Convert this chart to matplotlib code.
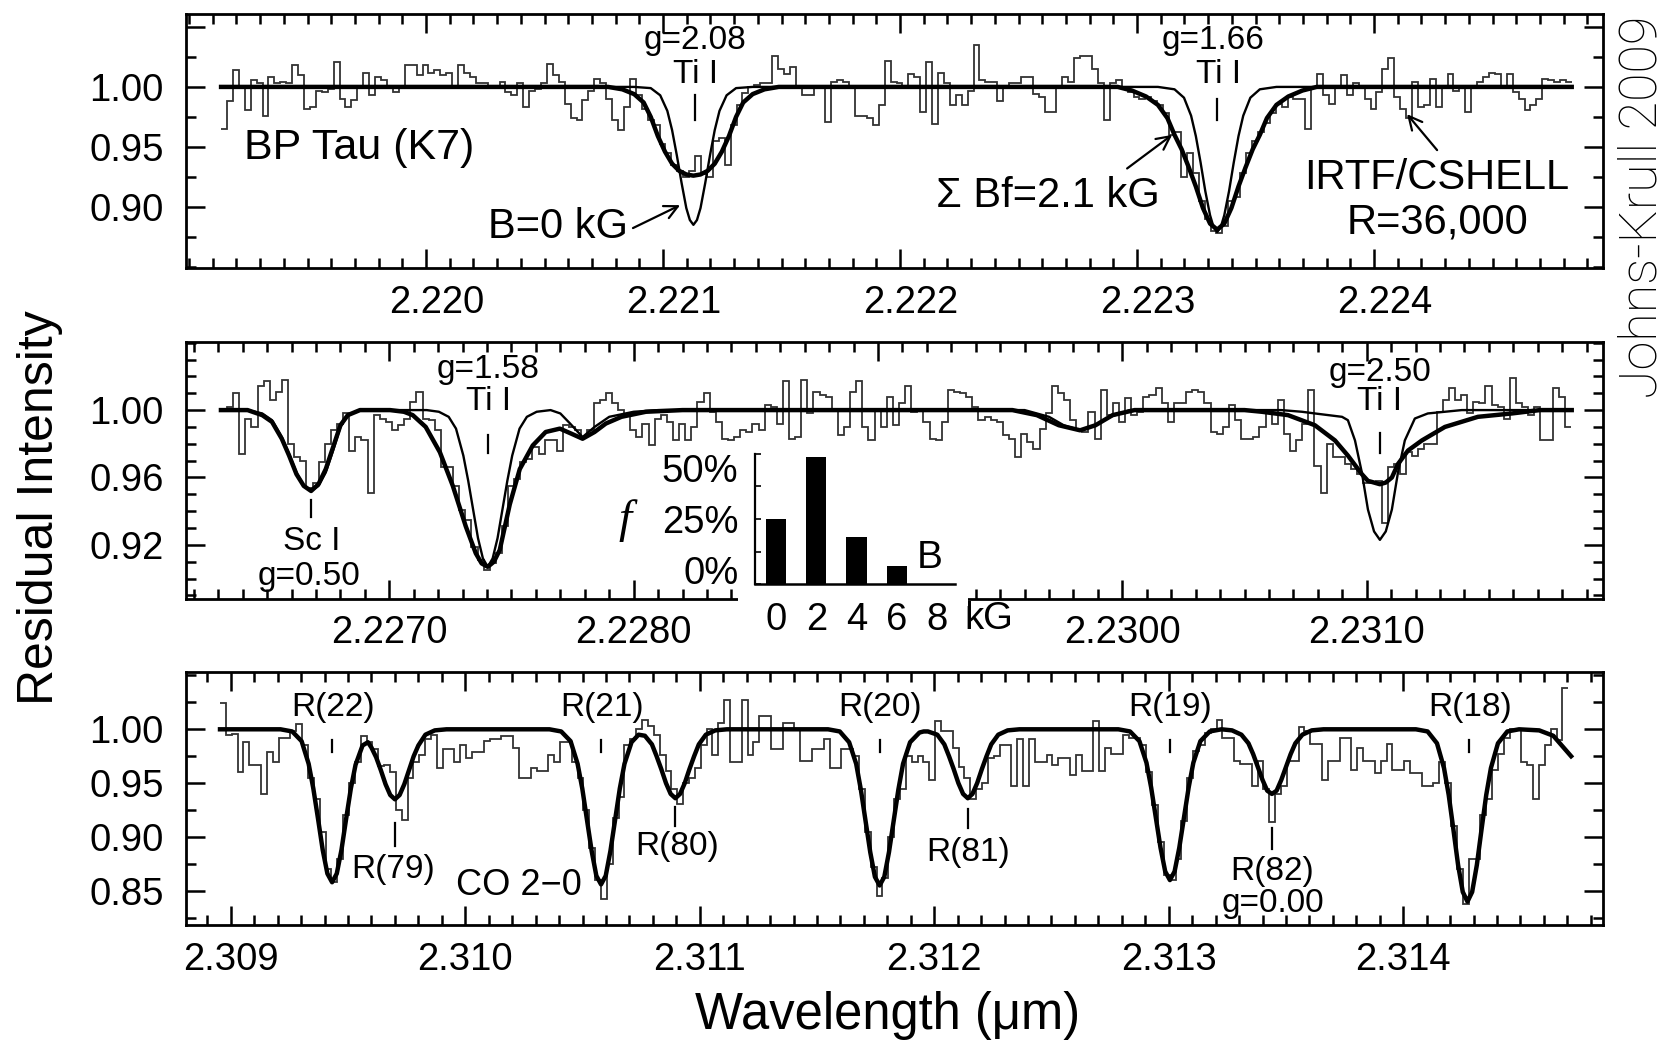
import numpy as np
import matplotlib
matplotlib.use('Agg')
import matplotlib.pyplot as plt
from matplotlib.patches import Rectangle
from matplotlib.ticker import MultipleLocator
from matplotlib.transforms import ScaledTranslation

plt.rcParams['font.family'] = ['Liberation Sans', 'DejaVu Sans']
plt.rcParams.update({
    'xtick.direction': 'in', 'ytick.direction': 'in',
    'xtick.top': True, 'ytick.right': True,
    'xtick.major.size': 14, 'ytick.major.size': 14,
    'xtick.minor.size': 7.5, 'ytick.minor.size': 7.5,
    'xtick.major.width': 1.8, 'ytick.major.width': 1.8,
    'xtick.minor.width': 1.8, 'ytick.minor.width': 1.8,
    'xtick.minor.visible': True, 'ytick.minor.visible': True,
})

W, H = 1667, 1046
bin_width = 0.000025

# ---------------- Ti I 2.221 / 2.223 um window ----------------
ti_a_start = 2.219135
ti_a_flux = [
    0.965, 0.988, 1.014, 1.000, 0.981, 1.006, 1.003, 0.976, 1.008, 1.003,
    1.004, 1.003, 1.018, 1.010, 0.982, 0.983, 0.997, 0.996, 0.998, 1.021,
    0.990, 0.983, 0.989, 1.000, 1.012, 0.993, 1.008, 1.006, 1.000, 0.996,
    1.000, 1.018, 1.018, 1.010, 1.018, 1.012, 1.014, 1.010, 1.012, 1.000,
    1.018, 1.012, 1.008, 1.003, 1.003, 1.001, 1.001, 1.004, 0.996, 0.993,
    1.003, 0.983, 0.997, 0.998, 1.003, 1.019, 1.010, 1.004, 0.986, 0.974,
    0.972, 0.989, 0.997, 1.007, 1.003, 0.990, 0.972, 0.964, 0.983, 1.007,
    0.993, 0.982, 0.972, 0.968, 0.952, 0.945, 0.935, 0.930, 0.925, 0.930,
    0.942, 0.927, 0.925, 0.955, 0.957, 0.935, 0.968, 0.985, 0.995, 1.000,
    1.002, 1.003, 1.003, 1.026, 1.015, 1.011, 1.017, 1.000, 0.993, 0.993,
    1.000, 1.000, 0.971, 1.004, 1.006, 1.004, 1.001, 0.976, 0.976, 0.974,
    0.968, 0.985, 1.022, 1.004, 1.003, 1.000, 1.011, 1.008, 0.979, 1.021,
    0.969, 1.012, 1.003, 0.985, 0.993, 0.985, 0.997, 1.035, 1.006, 1.004,
    1.004, 0.988, 1.001, 1.003, 1.003, 1.008, 1.008, 0.994, 0.992, 0.979,
    0.979, 1.000, 1.008, 1.004, 1.024, 1.026, 1.026, 1.015, 1.003, 0.972,
    1.003, 1.006, 0.999, 0.996, 0.992, 0.990, 0.992, 0.988, 0.985, 0.978,
    0.960, 0.962, 0.925, 0.945, 0.928, 0.905, 0.890, 0.880, 0.878, 0.884,
    0.905, 0.908, 0.928, 0.945, 0.955, 0.962, 0.970, 0.978, 0.986, 0.983,
    0.992, 0.990, 0.990, 0.965, 1.000, 1.011, 0.993, 0.986, 1.000, 1.010,
    0.993, 1.003, 0.999, 0.990, 0.982, 0.996, 1.015, 1.024, 0.992, 0.982,
    0.974, 1.004, 0.983, 0.985, 1.007, 0.983, 1.001, 1.011, 0.997, 1.001,
    0.979, 1.000, 1.004, 1.008, 1.012, 1.011, 1.000, 1.011, 0.996, 0.990,
    0.981, 0.985, 0.990, 1.007, 1.006, 1.004, 1.006, 1.004,
]
ti_a_b0_wl = [
    2.219135, 2.220878, 2.220948, 2.220988, 2.221018, 2.221038, 2.221058,
    2.221078, 2.221098, 2.221113, 2.221128, 2.221143, 2.221158, 2.221178,
    2.221198, 2.221218, 2.221238, 2.221268, 2.221308, 2.221378,
    2.223088, 2.223158, 2.223198, 2.223228, 2.223248, 2.223268, 2.223288,
    2.223308, 2.223323, 2.223338, 2.223353, 2.223368, 2.223388, 2.223408,
    2.223428, 2.223448, 2.223478, 2.223518, 2.223588, 2.224834,
]
ti_a_b0_flux = [
    1.000, 1.000, 0.999, 0.993, 0.980, 0.964, 0.943,
    0.920, 0.899, 0.889, 0.885, 0.889, 0.899, 0.920,
    0.943, 0.964, 0.980, 0.993, 0.999, 1.000,
    1.000, 0.998, 0.991, 0.976, 0.959, 0.937, 0.913,
    0.893, 0.883, 0.879, 0.883, 0.893, 0.913, 0.937,
    0.959, 0.976, 0.991, 0.998, 1.000, 1.000,
]
ti_a_fit_wl = [
    2.219135, 2.220768, 2.220828, 2.220878, 2.220918, 2.220948, 2.220978,
    2.221008, 2.221038, 2.221068, 2.221098, 2.221128, 2.221158, 2.221188,
    2.221218, 2.221248, 2.221278, 2.221308, 2.221338, 2.221378, 2.221428,
    2.221488,
    2.222918, 2.222978, 2.223038, 2.223088, 2.223128, 2.223158, 2.223188,
    2.223218, 2.223248, 2.223278, 2.223308, 2.223338, 2.223368, 2.223398,
    2.223428, 2.223458, 2.223488, 2.223518, 2.223548, 2.223588, 2.223638,
    2.223698, 2.223758, 2.224834,
]
ti_a_fit_flux = [
    1.000, 1.000, 0.998, 0.994, 0.987, 0.975, 0.959,
    0.946, 0.936, 0.930, 0.927, 0.926, 0.927, 0.930,
    0.936, 0.946, 0.959, 0.975, 0.987, 0.994, 0.998,
    1.000,
    1.000, 0.997, 0.992, 0.985, 0.974, 0.960, 0.948,
    0.933, 0.917, 0.899, 0.886, 0.881, 0.886, 0.899,
    0.917, 0.933, 0.948, 0.960, 0.974, 0.985, 0.992,
    0.997, 1.000, 1.000,
]

# ---------------- Sc I / Ti I 2.227 - 2.231 um window ----------------
ti_b_start = 2.226311
ti_b_flux = [
    1.000, 1.002, 1.010, 0.974, 0.995, 0.990, 1.014, 1.017, 1.006, 1.011,
    1.018, 0.980, 0.972, 0.970, 0.954, 0.957, 0.969, 0.980, 0.988, 0.992,
    0.998, 0.976, 0.984, 0.982, 0.951, 0.997, 0.995, 0.993, 0.988, 0.991,
    0.995, 1.005, 1.011, 0.995, 0.994, 0.988, 0.966, 0.966, 0.955, 0.941,
    0.935, 0.919, 0.911, 0.905, 0.909, 0.915, 0.931, 0.955, 0.959, 0.969,
    0.971, 0.978, 0.974, 0.982, 0.982, 0.976, 0.991, 0.990, 0.988, 0.984,
    0.988, 1.004, 1.006, 1.010, 1.004, 1.000, 0.997, 0.988, 0.984, 0.992,
    0.979, 0.995, 0.997, 0.993, 0.982, 0.992, 0.982, 0.990, 1.005, 1.010,
    0.999, 0.993, 0.983, 0.982, 0.984, 0.988, 0.987, 0.992, 0.988, 1.003,
    1.002, 0.992, 1.017, 0.983, 0.984, 1.018, 0.998, 1.011, 1.009, 1.008,
    1.000, 0.985, 0.990, 1.011, 1.017, 0.990, 0.982, 1.000, 0.990, 1.008,
    0.991, 1.004, 1.014, 0.999, 1.000, 0.993, 0.983, 0.982, 0.993, 1.012,
    1.011, 1.010, 1.008, 1.002, 0.994, 0.996, 0.994, 0.993, 0.985, 0.983,
    0.972, 0.986, 0.981, 0.977, 0.989, 0.998, 1.014, 1.010, 1.006, 0.994,
    0.988, 0.987, 0.999, 0.983, 1.012, 0.997, 1.004, 0.993, 1.007, 0.997,
    0.999, 1.008, 1.009, 1.013, 1.004, 0.993, 1.004, 1.004, 1.011, 1.012,
    1.011, 1.004, 0.987, 0.986, 0.990, 1.003, 0.994, 0.983, 0.983, 0.984,
    0.990, 0.998, 0.992, 1.006, 0.986, 0.976, 0.982, 0.992, 1.012, 0.967,
    0.951, 0.980, 0.972, 0.972, 0.968, 0.965, 0.962, 0.957, 0.957, 0.958,
    0.933, 0.966, 0.968, 0.962, 0.975, 0.973, 0.977, 0.980, 0.980, 0.999,
    1.006, 1.013, 1.006, 1.009, 0.998, 1.005, 1.004, 1.014, 1.003, 1.002,
    0.995, 1.019, 1.004, 1.002, 0.997, 1.002, 0.982, 0.982, 1.013, 1.008,
    0.990,
]
ti_b_b0_wl = [
    2.226311, 2.226420, 2.226480, 2.226520, 2.226560, 2.226590, 2.226620,
    2.226650, 2.226680, 2.226710, 2.226740, 2.226770, 2.226800, 2.226830,
    2.226880,
    2.227153, 2.227203, 2.227243, 2.227273, 2.227303, 2.227323, 2.227343,
    2.227363, 2.227383, 2.227403, 2.227423, 2.227443, 2.227463, 2.227483,
    2.227503, 2.227533, 2.227563, 2.227603, 2.227660,
    2.227700, 2.227740, 2.227791, 2.227840, 2.227900, 2.228000, 2.228100,
    2.229600, 2.229700, 2.229760, 2.229827, 2.229890, 2.229950, 2.230030,
    2.230650, 2.230735, 2.230788, 2.230899, 2.230923, 2.230952, 2.230980,
    2.231005, 2.231030, 2.231054, 2.231078, 2.231103, 2.231128, 2.231156,
    2.231197, 2.231250, 2.231389, 2.231839,
]
ti_b_b0_flux = [
    1.000, 1.000, 0.998, 0.994, 0.984, 0.974, 0.963,
    0.955, 0.952, 0.955, 0.963, 0.976, 0.990, 0.997,
    1.000,
    1.000, 0.999, 0.996, 0.989, 0.973, 0.958, 0.941,
    0.924, 0.912, 0.907, 0.912, 0.924, 0.941, 0.958,
    0.973, 0.989, 0.996, 0.999, 1.000,
    0.998, 0.992, 0.984, 0.990, 0.996, 0.999, 1.000,
    1.000, 0.996, 0.991, 0.988, 0.991, 0.996, 1.000,
    1.000, 0.999, 0.998, 0.996, 0.994, 0.982, 0.963,
    0.941, 0.928, 0.923, 0.928, 0.941, 0.963, 0.982,
    0.995, 0.998, 1.000, 1.000,
]
ti_b_fit_wl = [
    2.226311, 2.226420, 2.226480, 2.226520, 2.226560, 2.226590, 2.226620,
    2.226650, 2.226680, 2.226710, 2.226740, 2.226770, 2.226800, 2.226830,
    2.226880,
    2.227003, 2.227060, 2.227096, 2.227149, 2.227207, 2.227260, 2.227313,
    2.227354, 2.227378, 2.227403, 2.227428, 2.227452, 2.227493, 2.227534,
    2.227587, 2.227640, 2.227698, 2.227745, 2.227791, 2.227840, 2.227886,
    2.227950, 2.228050, 2.228200,
    2.229550, 2.229650, 2.229740, 2.229827, 2.229890, 2.229960, 2.230050,
    2.230500, 2.230571, 2.230678, 2.230788, 2.230870, 2.230923, 2.230980,
    2.231005, 2.231030, 2.231054, 2.231078, 2.231103, 2.231128, 2.231169,
    2.231226, 2.231320, 2.231455, 2.231594, 2.231709, 2.231839,
]
ti_b_fit_flux = [
    1.000, 1.000, 0.997, 0.993, 0.983, 0.973, 0.962,
    0.955, 0.952, 0.956, 0.965, 0.978, 0.991, 0.997,
    1.000,
    1.000, 0.999, 0.997, 0.990, 0.975, 0.955, 0.931,
    0.915, 0.909, 0.907, 0.910, 0.917, 0.944, 0.965,
    0.979, 0.987, 0.989, 0.986, 0.983, 0.987, 0.992,
    0.996, 0.999, 1.000,
    1.000, 0.997, 0.991, 0.988, 0.991, 0.997, 1.000,
    1.000, 0.999, 0.997, 0.991, 0.982, 0.973, 0.962,
    0.958, 0.957, 0.956, 0.957, 0.960, 0.968, 0.976,
    0.982, 0.990, 0.996, 0.998, 1.000, 1.000,
]
inset_b = [0, 2, 4, 6, 8]
inset_f = [25, 49, 18, 7, 0]

# ---------------- CO 2-0 window ----------------
co_start = 2.308954
co_flux = [
    1.024, 0.995, 0.996, 0.960, 0.988, 0.967, 0.967, 0.940, 0.979, 0.970,
    0.992, 0.992, 0.998, 1.005, 0.985, 0.955, 0.935, 0.905, 0.870, 0.858,
    0.880, 0.920, 0.950, 0.970, 0.994, 0.988, 0.982, 0.966, 0.967, 0.960,
    0.925, 0.916, 0.955, 0.970, 0.976, 0.991, 0.995, 0.964, 0.982, 0.982,
    0.970, 0.985, 0.973, 0.979, 0.979, 0.989, 0.991, 0.991, 0.994, 0.994,
    0.983, 0.955, 0.955, 0.964, 0.961, 0.961, 0.976, 0.970, 0.988, 0.988,
    0.970, 0.955, 0.925, 0.890, 0.860, 0.842, 0.875, 0.918, 0.937, 0.985,
    0.991, 1.000, 1.009, 1.003, 0.995, 0.976, 0.961, 0.945, 0.931, 0.950,
    0.955, 0.964, 0.985, 1.000, 0.976, 1.006, 1.027, 0.970, 0.970, 1.027,
    0.976, 0.988, 1.012, 1.012, 0.982, 0.982, 1.006, 1.006, 1.000, 0.971,
    0.971, 0.982, 0.982, 0.991, 0.964, 0.964, 0.982, 0.982, 0.975, 0.945,
    0.905, 0.872, 0.845, 0.862, 0.900, 0.935, 0.945, 0.975, 0.970, 0.975,
    0.970, 0.953, 1.008, 0.998, 0.998, 0.983, 0.965, 0.955, 0.935, 0.945,
    0.950, 0.973, 0.975, 0.985, 0.985, 0.947, 0.991, 0.947, 0.991, 0.970,
    0.970, 0.976, 0.967, 0.973, 0.973, 0.958, 0.976, 0.961, 0.961, 1.008,
    0.961, 0.983, 0.977, 0.977, 0.995, 0.992, 0.992, 0.985, 0.960, 0.930,
    0.895, 0.865, 0.860, 0.880, 0.915, 0.955, 0.980, 0.985, 0.997, 1.000,
    1.009, 0.992, 0.992, 0.971, 0.968, 0.968, 0.947, 0.971, 0.945, 0.914,
    0.940, 0.947, 0.971, 0.971, 1.002, 0.998, 0.986, 0.986, 0.953, 0.971,
    0.971, 0.992, 0.992, 0.962, 0.983, 0.971, 0.971, 0.959, 0.971, 0.986,
    0.962, 0.962, 0.971, 0.959, 0.959, 0.947, 0.947, 0.950, 0.970, 0.950,
    0.910, 0.870, 0.838, 0.880, 0.880, 0.920, 0.935, 0.962, 0.977, 0.992,
    1.000, 1.000, 0.970, 0.967, 0.935, 0.967, 0.985, 1.000, 0.990, 1.038,
]
co_fit_wl = [
    2.308954,
    2.309212, 2.309262, 2.309302, 2.309332, 2.309352, 2.309372, 2.309392,
    2.309412, 2.309432, 2.309452, 2.309472, 2.309492, 2.309512, 2.309532,
    2.309562, 2.309585, 2.309600, 2.309620, 2.309640, 2.309660, 2.309680,
    2.309700, 2.309720, 2.309740, 2.309760, 2.309780, 2.309800, 2.309830,
    2.309870, 2.309920,
    2.310359, 2.310409, 2.310449, 2.310479, 2.310499, 2.310519, 2.310539,
    2.310559, 2.310579, 2.310599, 2.310619, 2.310639, 2.310659, 2.310679,
    2.310709, 2.310739, 2.310766, 2.310796, 2.310816, 2.310836, 2.310856,
    2.310876, 2.310896, 2.310916, 2.310936, 2.310956, 2.310976, 2.310996,
    2.311026, 2.311066, 2.311116,
    2.311547, 2.311597, 2.311637, 2.311667, 2.311687, 2.311707, 2.311727,
    2.311747, 2.311767, 2.311787, 2.311807, 2.311827, 2.311847, 2.311867,
    2.311897, 2.311937, 2.311955, 2.311973, 2.312013, 2.312043, 2.312063,
    2.312083, 2.312103, 2.312123, 2.312143, 2.312163, 2.312183, 2.312203,
    2.312223, 2.312243, 2.312273, 2.312313, 2.312363,
    2.312785, 2.312835, 2.312875, 2.312905, 2.312925, 2.312945, 2.312965,
    2.312985, 2.313005, 2.313025, 2.313045, 2.313065, 2.313085, 2.313105,
    2.313135, 2.313175, 2.313225,
    2.313270, 2.313310, 2.313340, 2.313360, 2.313380, 2.313400, 2.313420,
    2.313440, 2.313460, 2.313480, 2.313500, 2.313520, 2.313540, 2.313570,
    2.313610, 2.313660,
    2.314054, 2.314104, 2.314144, 2.314174, 2.314194, 2.314214, 2.314234,
    2.314254, 2.314274, 2.314294, 2.314314, 2.314334, 2.314354, 2.314374,
    2.314404, 2.314444, 2.314494, 2.314580, 2.314640, 2.314716,
]
co_fit_flux = [
    1.000,
    1.000, 0.998, 0.989, 0.968, 0.945, 0.917, 0.888,
    0.866, 0.858, 0.866, 0.888, 0.917, 0.945, 0.967,
    0.985, 0.988, 0.983, 0.974, 0.962, 0.949, 0.939,
    0.935, 0.939, 0.949, 0.962, 0.975, 0.985, 0.995,
    0.999, 1.000,
    1.000, 0.998, 0.989, 0.968, 0.945, 0.916, 0.887,
    0.864, 0.856, 0.864, 0.887, 0.916, 0.945, 0.968,
    0.988, 0.995, 0.994, 0.986, 0.975, 0.963, 0.950,
    0.940, 0.936, 0.940, 0.950, 0.963, 0.975, 0.986,
    0.995, 0.999, 1.000,
    1.000, 0.998, 0.988, 0.968, 0.944, 0.915, 0.886,
    0.863, 0.855, 0.863, 0.886, 0.915, 0.944, 0.968,
    0.988, 0.997, 0.998, 0.998, 0.995, 0.986, 0.975,
    0.963, 0.950, 0.940, 0.936, 0.940, 0.950, 0.963,
    0.975, 0.986, 0.995, 0.999, 1.000,
    1.000, 0.998, 0.989, 0.969, 0.946, 0.918, 0.890,
    0.868, 0.860, 0.868, 0.890, 0.918, 0.946, 0.969,
    0.989, 0.998, 1.000,
    0.999, 0.995, 0.987, 0.977, 0.965, 0.953, 0.943,
    0.940, 0.943, 0.953, 0.965, 0.977, 0.987, 0.995,
    0.999, 1.000,
    1.000, 0.998, 0.987, 0.964, 0.939, 0.907, 0.874,
    0.849, 0.840, 0.849, 0.874, 0.907, 0.939, 0.964,
    0.987, 0.998, 1.000, 0.999, 0.994, 0.975,
]


def px_rect(left, top, right, bottom):
    return [left / W, 1 - bottom / H, (right - left) / W, (bottom - top) / H]


def style_axes(ax, xlim, ylim, xminor, yminor):
    ax.set_xlim(*xlim)
    ax.set_ylim(*ylim)
    ax.xaxis.set_minor_locator(MultipleLocator(xminor))
    ax.yaxis.set_minor_locator(MultipleLocator(yminor))
    ax.tick_params(which='both', direction='in', top=True, right=True,
                   bottom=True, left=True, width=1.8, color='black',
                   labelsize=27.5)
    ax.tick_params(which='major', length=14)
    ax.tick_params(which='minor', length=7.5)
    ax.tick_params(axis='x', which='major', pad=12)
    ax.tick_params(axis='y', which='major', pad=16)
    for sp in ax.spines.values():
        sp.set_linewidth(2.0)
        sp.set_zorder(5)


def draw_spectrum(ax, start, flux, b0_wl, b0_flux, fit_wl, fit_flux):
    edges = start + bin_width * np.arange(len(flux) + 1)
    ax.stairs(flux, edges, baseline=None, color='#333333', lw=1.3, zorder=2)
    if b0_wl is not None:
        ax.plot(b0_wl, b0_flux, color='black', lw=1.7, zorder=3)
    ax.plot(fit_wl, fit_flux, color='black', lw=3.2, zorder=3)


def line_mark(ax, x, y0, y1):
    ax.plot([x, x], [y0, y1], color='black', lw=1.6, zorder=4)


def arrow(ax, head, tail):
    ax.annotate('', xy=head, xytext=tail,
                arrowprops=dict(arrowstyle='->', lw=1.6, color='black',
                                mutation_scale=24, shrinkA=0, shrinkB=0))


fig = plt.figure(figsize=(W / 100, H / 100), dpi=100)

# top panel
ax1 = fig.add_axes(px_rect(186, 14, 1603, 268))
draw_spectrum(ax1, ti_a_start, ti_a_flux, ti_a_b0_wl, ti_a_b0_flux,
              ti_a_fit_wl, ti_a_fit_flux)
ax1.set_xticks([2.220, 2.221, 2.222, 2.223, 2.224],
               ['2.220', '2.221', '2.222', '2.223', '2.224'])
ax1.set_yticks([0.90, 0.95, 1.00, 1.05], ['0.90', '0.95', '1.00', ''])
style_axes(ax1, (2.218987, 2.224966), (0.849, 1.0608), 0.0001, 0.025)
ax1.text(2.221135, 1.0389, 'g=2.08', ha='center', va='center', fontsize=24)
ax1.text(2.221135, 1.0106, 'Ti I', ha='center', va='center', fontsize=24)
line_mark(ax1, 2.221135, 0.993, 0.972)
ax1.text(2.223322, 1.0389, 'g=1.66', ha='center', va='center', fontsize=24)
ax1.text(2.223342, 1.0106, 'Ti I', ha='center', va='center', fontsize=24)
line_mark(ax1, 2.223336, 0.990, 0.972)
ax1.text(2.219232, 0.949, 'BP Tau (K7)', ha='left', va='center', fontsize=31)
ax1.text(2.220555, 0.883, 'B=0 kG', ha='center', va='center', fontsize=30)
arrow(ax1, (2.221072, 0.9014), (2.220873, 0.8823))
ax1.text(2.222624, 0.909, '\u03a3 Bf=2.1 kG', ha='center', va='center', fontsize=30)
arrow(ax1, (2.223148, 0.960), (2.222958, 0.932))
ax1.text(2.224266, 0.9239, 'IRTF/CSHELL', ha='center', va='center', fontsize=30)
ax1.text(2.224266, 0.8873, 'R=36,000', ha='center', va='center', fontsize=30)
arrow(ax1, (2.224139, 0.9773), (2.224266, 0.9473))

# middle panel
ax2 = fig.add_axes(px_rect(186, 342, 1603, 598.5))
draw_spectrum(ax2, ti_b_start, ti_b_flux, ti_b_b0_wl, ti_b_b0_flux,
              ti_b_fit_wl, ti_b_fit_flux)
ax2.set_xticks([2.227, 2.228, 2.229, 2.230, 2.231],
               ['2.2270', '2.2280', '', '2.2300', '2.2310'])
ax2.set_yticks([0.92, 0.96, 1.00], ['0.92', '0.96', '1.00'])
style_axes(ax2, (2.226168, 2.231967), (0.8882, 1.0404), 0.0001, 0.01)
ax2.text(2.227404, 1.0239, 'g=1.58', ha='center', va='center', fontsize=24)
ax2.text(2.227404, 1.0049, 'Ti I', ha='center', va='center', fontsize=24)
line_mark(ax2, 2.227403, 0.9853, 0.9746)
ax2.text(2.226684, 0.9218, 'Sc I', ha='center', va='center', fontsize=24)
ax2.text(2.226671, 0.901, 'g=0.50', ha='center', va='center', fontsize=24)
line_mark(ax2, 2.226680, 0.9467, 0.9366)
ax2.text(2.231054, 1.0222, 'g=2.50', ha='center', va='center', fontsize=24)
ax2.text(2.231054, 1.0049, 'Ti I', ha='center', va='center', fontsize=24)
line_mark(ax2, 2.231054, 0.9862, 0.9745)

# bottom panel
ax3 = fig.add_axes(px_rect(186, 672, 1603, 925))
draw_spectrum(ax3, co_start, co_flux, None, None, co_fit_wl, co_fit_flux)
ax3.set_xticks([2.309, 2.310, 2.311, 2.312, 2.313, 2.314],
               ['2.309', '2.310', '2.311', '2.312', '2.313', '2.314'])
ax3.set_yticks([0.85, 0.90, 0.95, 1.00], ['0.85', '0.90', '0.95', '1.00'])
style_axes(ax3, (2.308809, 2.314852), (0.8183, 1.0532), 0.0001, 0.025)

for name, wl in [('R(22)', 2.309435), ('R(21)', 2.310582), ('R(20)', 2.311770),
                 ('R(19)', 2.313008), ('R(18)', 2.314285)]:
    ax3.text(wl, 1.0207, name, ha='center', va='center', fontsize=24)
    line_mark(ax3, wl - 0.000003, 0.990, 0.979)
ax3.text(2.309693, 0.8697, 'R(79)', ha='center', va='center', fontsize=24)
line_mark(ax3, 2.309700, 0.913, 0.892)
ax3.text(2.310904, 0.891, 'R(80)', ha='center', va='center', fontsize=24)
line_mark(ax3, 2.310896, 0.928, 0.910)
ax3.text(2.312146, 0.886, 'R(81)', ha='center', va='center', fontsize=24)
line_mark(ax3, 2.312143, 0.926, 0.908)
ax3.text(2.313443, 0.868, 'R(82)', ha='center', va='center', fontsize=24)
ax3.text(2.313443, 0.838, 'g=0.00', ha='center', va='center', fontsize=24)
line_mark(ax3, 2.313440, 0.908, 0.889)
ax3.text(2.310230, 0.855, 'CO 2\u22120', ha='center', va='center', fontsize=26)

# the top-panel wavelength labels sit a little right of their ticks
shift = ScaledTranslation(11 / 100, 0, fig.dpi_scale_trans)
for lab in ax1.get_xticklabels():
    lab.set_transform(lab.get_transform() + shift)

# blank strip under the field-strength histogram
fig.add_artist(Rectangle((738 / W, 1 - 606 / H), 230 / W, 31 / H,
                         transform=fig.transFigure, facecolor='white',
                         edgecolor='none', zorder=5))

ins = fig.add_axes(px_rect(755, 454, 955, 584))
ins.set_zorder(6)
ins.patch.set_visible(False)
ins.bar(inset_b, inset_f, width=1.0, color='black')
ins.set_xlim(-1.043, 8.894)
ins.set_ylim(0, 50)
ins.spines['top'].set_visible(False)
ins.spines['right'].set_visible(False)
ins.spines['left'].set_linewidth(1.6)
ins.spines['bottom'].set_linewidth(1.8)
ins.set_xticks(inset_b, [str(b) for b in inset_b])
ins.set_xticks([], minor=True)
ins.set_yticks([0, 25, 50], ['0%', '25%', '50%'])
ins.set_yticks([12.5, 37.5], minor=True)
ins.tick_params(axis='x', which='both', top=False, length=0, pad=13,
                labelsize=27.5)
ins.tick_params(axis='y', which='both', right=False, direction='in',
                length=4, width=1.2, pad=12, labelsize=27.5)
ylabs = ins.get_yticklabels()
ylabs[0].set_va('baseline')
ylabs[2].set_va('top')
fig.text(988.6 / W, 1 - 619 / H, 'kG', ha='center', va='center', fontsize=27.5)
fig.text(930 / W, 1 - 558 / H, 'B', ha='center', va='center', fontsize=28)
fig.text(625 / W, 1 - 521 / H, 'f', ha='center', va='center', fontsize=34,
         family='Liberation Serif', style='italic')

fig.text(40 / W, 1 - 508 / H, 'Residual Intensity', rotation=90,
         ha='center', va='center', fontsize=36)
fig.text(887.7 / W, 1 - 1015 / H, 'Wavelength (\u03bcm)',
         ha='center', va='center', fontsize=36.5)
fig.text(1642 / W, 1 - 207 / H, 'Johns-Krull 2009', rotation=90,
         ha='center', va='center', fontsize=37.5, color='black',
         family=['Roboto', 'Lato', 'DejaVu Sans'], fontweight='light')

fig.savefig('out.png', dpi=100)
